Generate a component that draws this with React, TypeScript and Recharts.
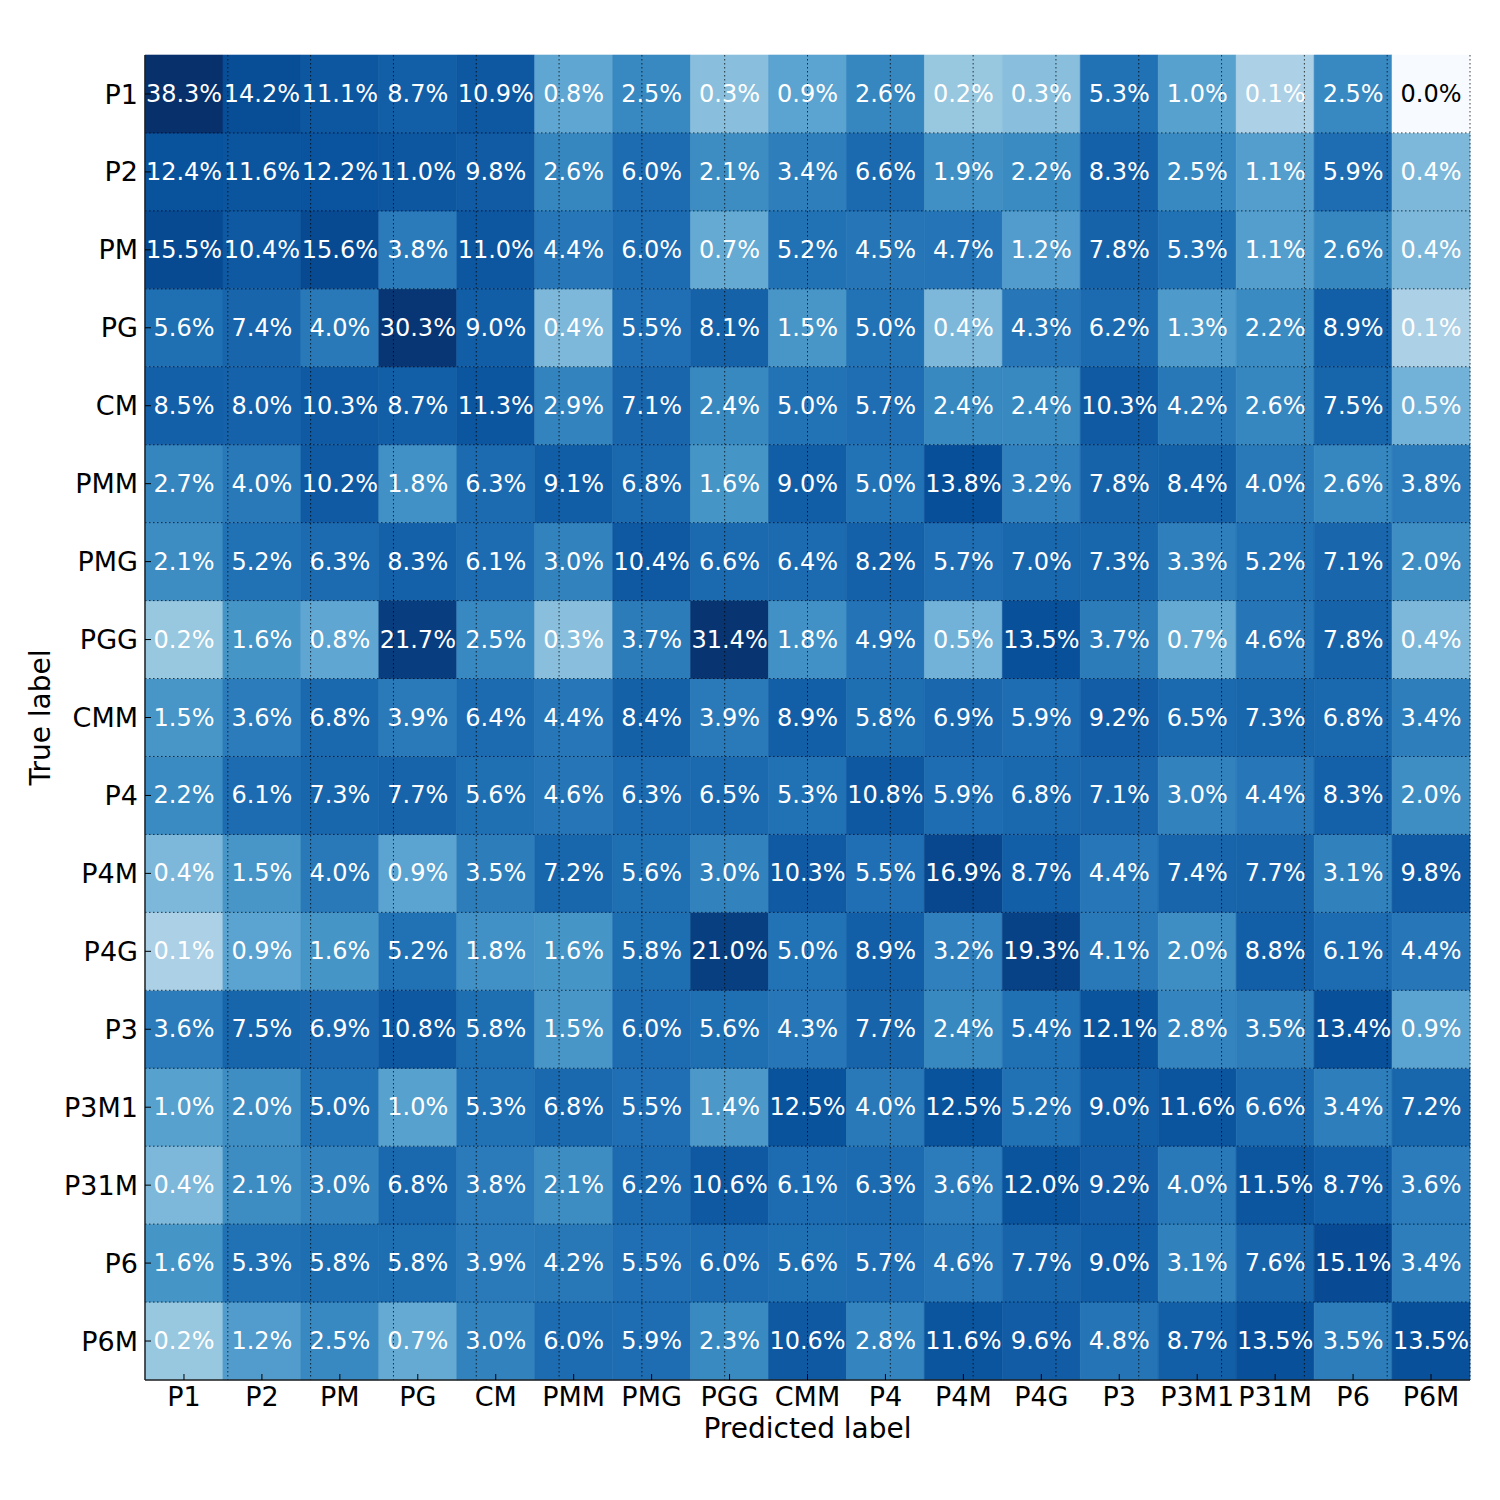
import React from "react";
import {
  BarChart,
  Bar,
  Cell,
  XAxis,
  YAxis,
  LabelList,
  ReferenceLine,
  Label,
} from "recharts";

// Clases (etiqueta verdadera = fila, etiqueta predicha = columna)
const classes = [
  "P1", "P2", "PM", "PG", "CM", "PMM", "PMG", "PGG", "CMM",
  "P4", "P4M", "P4G", "P3", "P3M1", "P31M", "P6", "P6M",
];

// Porcentajes por fila (true label), en el orden de las columnas
const rowP1 = [38.3, 14.2, 11.1, 8.7, 10.9, 0.8, 2.5, 0.3, 0.9, 2.6, 0.2, 0.3, 5.3, 1.0, 0.1, 2.5, 0.0];
const rowP2 = [12.4, 11.6, 12.2, 11.0, 9.8, 2.6, 6.0, 2.1, 3.4, 6.6, 1.9, 2.2, 8.3, 2.5, 1.1, 5.9, 0.4];
const rowPM = [15.5, 10.4, 15.6, 3.8, 11.0, 4.4, 6.0, 0.7, 5.2, 4.5, 4.7, 1.2, 7.8, 5.3, 1.1, 2.6, 0.4];
const rowPG = [5.6, 7.4, 4.0, 30.3, 9.0, 0.4, 5.5, 8.1, 1.5, 5.0, 0.4, 4.3, 6.2, 1.3, 2.2, 8.9, 0.1];
const rowCM = [8.5, 8.0, 10.3, 8.7, 11.3, 2.9, 7.1, 2.4, 5.0, 5.7, 2.4, 2.4, 10.3, 4.2, 2.6, 7.5, 0.5];
const rowPMM = [2.7, 4.0, 10.2, 1.8, 6.3, 9.1, 6.8, 1.6, 9.0, 5.0, 13.8, 3.2, 7.8, 8.4, 4.0, 2.6, 3.8];
const rowPMG = [2.1, 5.2, 6.3, 8.3, 6.1, 3.0, 10.4, 6.6, 6.4, 8.2, 5.7, 7.0, 7.3, 3.3, 5.2, 7.1, 2.0];
const rowPGG = [0.2, 1.6, 0.8, 21.7, 2.5, 0.3, 3.7, 31.4, 1.8, 4.9, 0.5, 13.5, 3.7, 0.7, 4.6, 7.8, 0.4];
const rowCMM = [1.5, 3.6, 6.8, 3.9, 6.4, 4.4, 8.4, 3.9, 8.9, 5.8, 6.9, 5.9, 9.2, 6.5, 7.3, 6.8, 3.4];
const rowP4 = [2.2, 6.1, 7.3, 7.7, 5.6, 4.6, 6.3, 6.5, 5.3, 10.8, 5.9, 6.8, 7.1, 3.0, 4.4, 8.3, 2.0];
const rowP4M = [0.4, 1.5, 4.0, 0.9, 3.5, 7.2, 5.6, 3.0, 10.3, 5.5, 16.9, 8.7, 4.4, 7.4, 7.7, 3.1, 9.8];
const rowP4G = [0.1, 0.9, 1.6, 5.2, 1.8, 1.6, 5.8, 21.0, 5.0, 8.9, 3.2, 19.3, 4.1, 2.0, 8.8, 6.1, 4.4];
const rowP3 = [3.6, 7.5, 6.9, 10.8, 5.8, 1.5, 6.0, 5.6, 4.3, 7.7, 2.4, 5.4, 12.1, 2.8, 3.5, 13.4, 0.9];
const rowP3M1 = [1.0, 2.0, 5.0, 1.0, 5.3, 6.8, 5.5, 1.4, 12.5, 4.0, 12.5, 5.2, 9.0, 11.6, 6.6, 3.4, 7.2];
const rowP31M = [0.4, 2.1, 3.0, 6.8, 3.8, 2.1, 6.2, 10.6, 6.1, 6.3, 3.6, 12.0, 9.2, 4.0, 11.5, 8.7, 3.6];
const rowP6 = [1.6, 5.3, 5.8, 5.8, 3.9, 4.2, 5.5, 6.0, 5.6, 5.7, 4.6, 7.7, 9.0, 3.1, 7.6, 15.1, 3.4];
const rowP6M = [0.2, 1.2, 2.5, 0.7, 3.0, 6.0, 5.9, 2.3, 10.6, 2.8, 11.6, 9.6, 4.8, 8.7, 13.5, 3.5, 13.5];

const matrix = [
  rowP1, rowP2, rowPM, rowPG, rowCM, rowPMM, rowPMG, rowPGG, rowCMM,
  rowP4, rowP4M, rowP4G, rowP3, rowP3M1, rowP31M, rowP6, rowP6M,
];

const FONT = "'DejaVu Sans', sans-serif";

// Paleta "Blues" (9 pasos)
const BLUES = [
  "#f7fbff", "#deebf7", "#c6dbef", "#9ecae1", "#6baed6",
  "#4292c6", "#2171b5", "#08519c", "#08306b",
];

// curva de color aproximada: [log10(valor), posición en la paleta]
const COLOR_CURVE: [number, number][] = [
  [-1.0, 0.33], [-0.7, 0.39], [-0.5, 0.43], [0, 0.56], [0.4, 0.665],
  [0.72, 0.75], [1.04, 0.85], [1.34, 0.95], [1.58, 1.0],
];

const hexToRgb = (h: string) => [
  parseInt(h.slice(1, 3), 16),
  parseInt(h.slice(3, 5), 16),
  parseInt(h.slice(5, 7), 16),
];

function colorPos(v: number) {
  if (v <= 0) return 0;
  const x = Math.log10(v);
  if (x <= COLOR_CURVE[0][0]) return COLOR_CURVE[0][1];
  for (let i = 1; i < COLOR_CURVE.length; i++) {
    const [x0, t0] = COLOR_CURVE[i - 1];
    const [x1, t1] = COLOR_CURVE[i];
    if (x <= x1) return t0 + ((x - x0) / (x1 - x0)) * (t1 - t0);
  }
  return 1;
}

function blues(v: number) {
  const t = Math.max(0, Math.min(1, colorPos(v)));
  const pos = t * (BLUES.length - 1);
  const i = Math.min(Math.floor(pos), BLUES.length - 2);
  const f = pos - i;
  const a = hexToRgb(BLUES[i]);
  const b = hexToRgb(BLUES[i + 1]);
  const c = a.map((x, k) => Math.round(x + (b[k] - x) * f));
  return `rgb(${c[0]},${c[1]},${c[2]})`;
}

const chartData = classes.map((name) => {
  const d: Record<string, string | number> = { name };
  classes.forEach((r) => (d[r] = 1));
  return d;
});

const centers = classes.map((_, i) => i + 0.5);
const bounds = classes.slice(1).map((_, i) => i + 1);

const axisStroke = { stroke: "#222", strokeWidth: 1.5 };

export default function App() {
  return (
    <div style={{ position: "absolute", left: 0, top: 0, background: "#fff" }}>
      <BarChart
        width={1500}
        height={1500}
        data={chartData}
        margin={{ top: 55, right: 30, bottom: 0, left: 0 }}
        barCategoryGap={0}
        barGap={0}
      >
        <XAxis
          dataKey="name"
          type="category"
          height={120}
          interval={0}
          tickSize={-6}
          tickMargin={13}
          axisLine={axisStroke}
          tickLine={{ stroke: "#000" }}
          tick={{ fill: "#000", fontSize: 27, fontFamily: FONT }}
        >
          <Label
            value="Predicted label"
            position="insideBottom"
            offset={62}
            style={{ fontSize: 28, fill: "#000", fontFamily: FONT }}
          />
        </XAxis>
        <XAxis
          xAxisId="top"
          orientation="top"
          type="number"
          domain={[0, 17]}
          ticks={centers}
          height={0}
          tickSize={-6}
          tickFormatter={() => ""}
          axisLine={axisStroke}
          tickLine={{ stroke: "#000" }}
        />
        <YAxis
          type="number"
          domain={[0, 17]}
          ticks={centers}
          interval={0}
          width={145}
          tickSize={-6}
          tickMargin={13}
          tickFormatter={(v: number) => classes[16 - Math.floor(v)]}
          axisLine={axisStroke}
          tickLine={{ stroke: "#000" }}
          tick={{ fill: "#000", fontSize: 27, fontFamily: FONT }}
        >
          <Label
            value="True label"
            angle={-90}
            position="insideLeft"
            offset={40}
            style={{ textAnchor: "middle", fontSize: 28, fill: "#000", fontFamily: FONT }}
          />
        </YAxis>
        <YAxis
          yAxisId="right"
          orientation="right"
          type="number"
          domain={[0, 17]}
          ticks={centers}
          width={0}
          tickSize={-6}
          tickFormatter={() => ""}
          axisLine={axisStroke}
          tickLine={{ stroke: "#000" }}
        />

        {[...classes].reverse().map((rowName) => {
          const row = classes.indexOf(rowName);
          return (
            <Bar
              key={rowName}
              dataKey={rowName}
              stackId="cm"
              isAnimationActive={false}
            >
              {chartData.map((_, col) => {
                const fill = blues(matrix[row][col]);
                return (
                  <Cell
                    key={`c-${row}-${col}`}
                    fill={fill}
                    stroke={fill}
                    strokeWidth={0.6}
                  />
                );
              })}
              <LabelList
                dataKey={rowName}
                // eslint-disable-next-line @typescript-eslint/no-explicit-any
                content={(p: any) => {
                  const v = matrix[row][p.index];
                  return (
                    <text
                      x={p.x + p.width / 2}
                      y={p.y + p.height / 2}
                      textAnchor="middle"
                      dominantBaseline="central"
                      fill={v > 0 ? "#fff" : "#000"}
                      fontSize={24}
                      fontFamily={FONT}
                    >
                      {`${v.toFixed(1)}%`}
                    </text>
                  );
                }}
              />
            </Bar>
          );
        })}

        {bounds.map((b) => (
          <ReferenceLine
            key={`v-${b}`}
            xAxisId="top"
            x={b}
            stroke="#000"
            strokeDasharray="1.5 2.5"
            strokeOpacity={0.75}
          />
        ))}
        {bounds.map((b) => (
          <ReferenceLine
            key={`h-${b}`}
            y={b}
            stroke="#000"
            strokeDasharray="1.5 2.5"
            strokeOpacity={0.75}
          />
        ))}
      </BarChart>
    </div>
  );
}
